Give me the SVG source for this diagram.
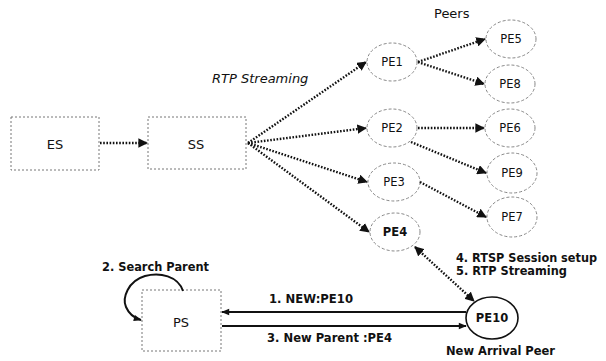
<svg xmlns="http://www.w3.org/2000/svg" width="606" height="361" viewBox="0 0 606 361">
<style>
text{font-family:"DejaVu Sans",Verdana,sans-serif;fill:#111}
.box{fill:none;stroke:#777;stroke-width:1;stroke-dasharray:2 2}
.pe{fill:none;stroke:#888;stroke-width:1;stroke-dasharray:3 2}
.pl{font-size:11.5px;text-anchor:middle}
.bl{font-size:11.5px;text-anchor:middle;font-weight:bold}
.dl{fill:none;stroke:#111;stroke-width:2.4;stroke-dasharray:1.6 1.6}
.sl{fill:none;stroke:#111;stroke-width:2}
.lb{font-size:11.5px;font-weight:bold}
</style>
<defs>
<marker id="ah" viewBox="0 0 10 10" refX="9" refY="5" markerWidth="4" markerHeight="4" orient="auto-start-reverse" markerUnits="strokeWidth">
<path d="M0,0 L10,5 L0,10 z" fill="#111"/>
</marker>
<marker id="ah2" viewBox="0 0 10 10" refX="9" refY="5" markerWidth="4.5" markerHeight="4" orient="auto-start-reverse" markerUnits="strokeWidth">
<path d="M0,1 L10,5 L0,9 z" fill="#111"/>
</marker>
</defs>
<text x="434" y="18" style="font-size:13px">Peers</text>
<text x="212" y="83" style="font-size:13px;font-style:italic">RTP Streaming</text>
<g id="ES"><rect class="box" x="11" y="117" width="88" height="53"/><text x="55" y="149" style="font-size:13px;text-anchor:middle">ES</text></g>
<g id="SS"><rect class="box" x="148" y="117" width="98" height="52"/><text x="196" y="149" style="font-size:13px;text-anchor:middle">SS</text></g>
<g id="PS"><rect class="box" x="142" y="290" width="79" height="61"/><text x="181" y="327" style="font-size:13px;text-anchor:middle">PS</text></g>
<g id="PE1"><ellipse class="pe" cx="392" cy="62" rx="25" ry="19"/><text class="pl" x="392" y="66">PE1</text></g>
<g id="PE2"><ellipse class="pe" cx="392" cy="128" rx="25" ry="19"/><text class="pl" x="392" y="132">PE2</text></g>
<g id="PE3"><ellipse class="pe" cx="394" cy="182" rx="26" ry="19"/><text class="pl" x="394" y="186">PE3</text></g>
<g id="PE4"><ellipse class="pe" cx="395" cy="232" rx="25" ry="19"/><text class="bl" x="395" y="236">PE4</text></g>
<g id="PE5"><ellipse class="pe" cx="511" cy="39" rx="25" ry="19"/><text class="pl" x="511" y="43">PE5</text></g>
<g id="PE8"><ellipse class="pe" cx="510" cy="84" rx="25" ry="19"/><text class="pl" x="510" y="88">PE8</text></g>
<g id="PE6"><ellipse class="pe" cx="510" cy="128" rx="25" ry="19"/><text class="pl" x="510" y="132">PE6</text></g>
<g id="PE9"><ellipse class="pe" cx="512" cy="173" rx="25" ry="20"/><text class="pl" x="512" y="177">PE9</text></g>
<g id="PE7"><ellipse class="pe" cx="512" cy="217" rx="25" ry="20"/><text class="pl" x="512" y="221">PE7</text></g>
<g id="PE10"><ellipse cx="492" cy="318" rx="26" ry="21" fill="none" stroke="#111" stroke-width="1.6"/><text class="bl" x="492" y="322">PE10</text></g>
<g id="connectors">
<line class="dl" x1="100" y1="143" x2="147" y2="143" marker-end="url(#ah)"/>
<line class="dl" x1="248" y1="143" x2="366" y2="62" marker-end="url(#ah)"/>
<line class="dl" x1="248" y1="143" x2="366" y2="128" marker-end="url(#ah)"/>
<line class="dl" x1="248" y1="143" x2="367" y2="182" marker-end="url(#ah)"/>
<line class="dl" x1="248" y1="143" x2="369" y2="232" marker-end="url(#ah)"/>
<line class="dl" x1="418" y1="62" x2="485" y2="39" marker-end="url(#ah)"/>
<line class="dl" x1="418" y1="62" x2="484" y2="84" marker-end="url(#ah)"/>
<line class="dl" x1="418" y1="128" x2="484" y2="128" marker-end="url(#ah)"/>
<line class="dl" x1="411" y1="142" x2="486" y2="173" marker-end="url(#ah)"/>
<line class="dl" x1="420" y1="182" x2="486" y2="217" marker-end="url(#ah)"/>
<line class="dl" x1="415" y1="247" x2="474" y2="301" marker-start="url(#ah)" marker-end="url(#ah)"/>
<line class="sl" x1="466" y1="312" x2="222" y2="312" marker-end="url(#ah2)"/>
<line class="sl" x1="222" y1="326" x2="466" y2="326" marker-end="url(#ah2)"/>
<path class="sl" d="M183,291 C178,276 160,272 145,276 C128,281 122,298 126,307 C129,314 134,318 141,320" marker-end="url(#ah2)"/>
</g>
<text class="lb" x="102" y="271" textLength="107" lengthAdjust="spacingAndGlyphs">2. Search Parent</text>
<text class="lb" x="269" y="303" textLength="84" lengthAdjust="spacingAndGlyphs">1. NEW:PE10</text>
<text class="lb" x="267" y="342" textLength="125" lengthAdjust="spacingAndGlyphs">3. New Parent :PE4</text>
<text class="lb" x="456" y="262" textLength="141" lengthAdjust="spacingAndGlyphs">4. RTSP Session setup</text>
<text class="lb" x="456" y="275" textLength="111" lengthAdjust="spacingAndGlyphs">5. RTP Streaming</text>
<text class="lb" x="446" y="355" textLength="109" lengthAdjust="spacingAndGlyphs">New Arrival Peer</text>
</svg>
